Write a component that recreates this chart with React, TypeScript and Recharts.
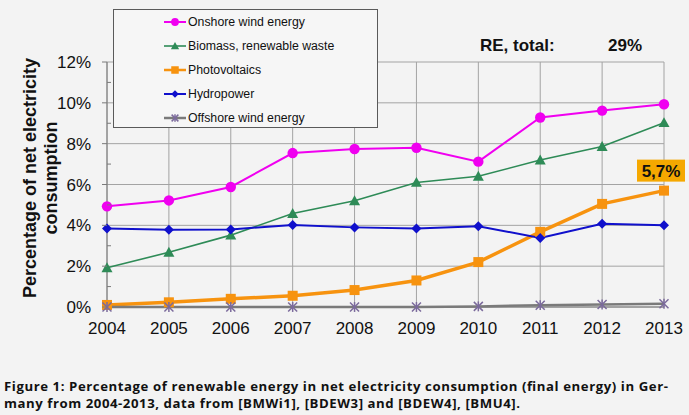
import React from 'react';
import { LineChart, Line, XAxis, YAxis, CartesianGrid, Legend, LabelList, Customized } from 'recharts';

const years = [2004, 2005, 2006, 2007, 2008, 2009, 2010, 2011, 2012, 2013];
const onshore = [4.93, 5.22, 5.88, 7.54, 7.74, 7.8, 7.12, 9.28, 9.62, 9.93];
const biomass = [1.92, 2.68, 3.52, 4.58, 5.2, 6.1, 6.4, 7.2, 7.86, 9.03];
const photovoltaics = [0.1, 0.23, 0.4, 0.55, 0.83, 1.3, 2.2, 3.68, 5.05, 5.7];
const hydropower = [3.84, 3.78, 3.8, 4.02, 3.9, 3.84, 3.96, 3.38, 4.08, 4.0];
const offshore = [0, 0, 0, 0, 0, 0, 0.03, 0.09, 0.12, 0.16];
const yTicks = [0, 1, 2, 3, 4, 5, 6, 7, 8, 9, 10, 11, 12];
const yGrid = [0, 2, 4, 6, 8, 10, 12];
const totalLabel = 'RE, total:';
const totalValue = '29%';
const pvCallout = '5,7%';
const captionLine1 = 'Figure 1: Percentage of renewable energy in net electricity consumption (final energy) in Ger-';
const captionLine2 = 'many from 2004-2013, data from [BMWi1], [BDEW3] and [BDEW4], [BMU4].';

const data = years.map((y, i) => ({
  year: y,
  onshore: onshore[i],
  biomass: biomass[i],
  pv: photovoltaics[i],
  hydro: hydropower[i],
  offshore: offshore[i],
}));

type Shape = 'circle' | 'triangle' | 'square' | 'diamond' | 'star';
const series: { key: string; name: string; color: string; width: number; shape: Shape; markerColor: string }[] = [
  { key: 'onshore', name: 'Onshore wind energy', color: '#f000f0', width: 2, shape: 'circle', markerColor: '#f000f0' },
  { key: 'biomass', name: 'Biomass, renewable waste', color: '#2e8b57', width: 1.6, shape: 'triangle', markerColor: '#2e8b57' },
  { key: 'pv', name: 'Photovoltaics', color: '#f7930f', width: 3.5, shape: 'square', markerColor: '#f7930f' },
  { key: 'hydro', name: 'Hydropower', color: '#1010cc', width: 2, shape: 'diamond', markerColor: '#1010cc' },
  { key: 'offshore', name: 'Offshore wind energy', color: '#7a7a7a', width: 2.5, shape: 'star', markerColor: '#7b6a9c' },
];

const FONT = 'Liberation Sans, Arial, sans-serif';
const BG = '#f3f3f3';

function Marker({ shape, cx, cy, color, s = 1 }: { shape: Shape; cx: number; cy: number; color: string; s?: number }) {
  if (cx == null || cy == null) return null;
  switch (shape) {
    case 'circle':
      return <circle cx={cx} cy={cy} r={5.2 * s} fill={color} />;
    case 'triangle': {
      const h = 5.5 * s;
      return <polygon points={`${cx},${cy - h} ${cx + h},${cy + h * 0.8} ${cx - h},${cy + h * 0.8}`} fill={color} />;
    }
    case 'square': {
      const h = 5 * s;
      return <rect x={cx - h} y={cy - h} width={2 * h} height={2 * h} fill={color} />;
    }
    case 'diamond': {
      const h = 5 * s;
      return <polygon points={`${cx},${cy - h} ${cx + h},${cy} ${cx},${cy + h} ${cx - h},${cy}`} fill={color} />;
    }
    case 'star': {
      const h = 4.5 * s;
      return (
        <g stroke={color} strokeWidth={1.5}>
          <line x1={cx - h} y1={cy - h} x2={cx + h} y2={cy + h} />
          <line x1={cx - h} y1={cy + h} x2={cx + h} y2={cy - h} />
          <line x1={cx} y1={cy - h * 1.1} x2={cx} y2={cy + h * 1.1} />
        </g>
      );
    }
  }
  return null;
}

const YTick = (props: any) => {
  const { x, y, payload } = props;
  const v = payload.value as number;
  const major = v % 2 === 0;
  return (
    <g>
      {major ? (
        <>
          <line x1={x - 5} x2={x} y1={y} y2={y} stroke="#7a7a7a" />
          <text x={x - 16} y={y} dy={6} textAnchor="end" fontFamily={FONT} fontSize={17} fill="#111">
            {v}%
          </text>
        </>
      ) : (
        <line x1={x} x2={x + 4} y1={y} y2={y} stroke="#7a7a7a" />
      )}
    </g>
  );
};

const XTick = (props: any) => {
  const { x, y, payload } = props;
  return (
    <text x={x} y={y} dy={27} textAnchor="middle" fontFamily={FONT} fontSize={17} fill="#111">
      {payload.value}
    </text>
  );
};

const YLabel = () => (
  <g fontFamily={FONT} fontWeight="bold" fontSize={18} fill="#111">
    <text x={36} y={178} textAnchor="middle" transform="rotate(-90 36 178)">
      Percentage of net electricity
    </text>
    <text x={57} y={178} textAnchor="middle" transform="rotate(-90 57 178)">
      consumption
    </text>
  </g>
);

const LegendBox = () => (
  <div
    style={{
      width: 265,
      height: 119,
      boxSizing: 'border-box',
      border: '1px solid #5a5a5a',
      background: '#f6f6f6',
      position: 'relative',
      fontFamily: FONT,
      fontSize: 12.3,
      color: '#111',
    }}
  >
    {series.map((s, i) => (
      <div key={s.key} style={{ position: 'absolute', left: 49, top: 4 + i * 24, height: 16, display: 'flex', alignItems: 'center' }}>
        <svg width={24} height={16} style={{ display: 'block' }}>
          <line x1={1} x2={23} y1={8} y2={8} stroke={s.color} strokeWidth={Math.min(s.width, 2.5)} />
          <Marker shape={s.shape} cx={12} cy={8} color={s.markerColor} s={0.75} />
        </svg>
        <span style={{ marginLeft: 1, whiteSpace: 'nowrap', lineHeight: '16px' }}>{s.name}</span>
      </div>
    ))}
  </div>
);

const Annotations = () => (
  <g fontFamily={FONT} fontWeight="bold" fontSize={17} fill="#111">
    <text x={480} y={51}>{totalLabel}</text>
    <text x={608} y={51}>{totalValue}</text>
  </g>
);

const PvCallout = (props: any) => {
  const { x, y, index } = props;
  if (index !== years.length - 1) return null;
  return (
    <g>
      <rect x={x - 27} y={y - 31} width={48} height={22} fill="#f5a800" />
      <text x={x - 3} y={y - 14} textAnchor="middle" fontFamily={FONT} fontWeight="bold" fontSize={17} fill="#111">
        {pvCallout}
      </text>
    </g>
  );
};

export default function App() {
  return (
    <div style={{ position: 'absolute', left: 0, top: 0, width: 689, height: 415, background: BG, overflow: 'hidden' }}>
      <LineChart width={689} height={345} data={data} margin={{ top: 62, right: 25, bottom: 0, left: 0 }}>
        <CartesianGrid
          stroke="#a3a3a3"
          strokeWidth={1}
          horizontalValues={yGrid}
          verticalValues={years}
        />
        <XAxis
          dataKey="year"
          type="number"
          domain={[2004, 2013]}
          ticks={years}
          tick={<XTick />}
          tickLine={false}
          tickSize={0}
          tickMargin={0}
          axisLine={{ stroke: '#7a7a7a' }}
          height={38}
        />
        <YAxis
          type="number"
          domain={[0, 12]}
          ticks={yTicks}
          interval={0}
          tick={<YTick />}
          tickLine={false}
          tickSize={0}
          tickMargin={0}
          axisLine={{ stroke: '#7a7a7a' }}
          width={107}
          label={<YLabel />}
        />
        {series.map((s) => (
          <Line
            key={s.key}
            dataKey={s.key}
            name={s.name}
            stroke={s.color}
            strokeWidth={s.width}
            isAnimationActive={false}
            dot={(p: any) => <Marker key={`${s.key}-${p.index}`} shape={s.shape} cx={p.cx} cy={p.cy} color={s.markerColor} />}
            activeDot={false}
          >
            {s.key === 'pv' ? <LabelList dataKey="pv" content={<PvCallout />} /> : null}
          </Line>
        ))}
        <Customized component={<Annotations />} />
        <Legend
          layout="vertical"
          align="center"
          verticalAlign="middle"
          content={() => <LegendBox />}
          wrapperStyle={{ position: 'absolute', left: 113, top: 9, width: 265, height: 119 }}
        />
      </LineChart>
      <svg width={689} height={70} style={{ position: 'absolute', left: 0, top: 345 }}>
        <g fontFamily="Open Sans, sans-serif" fontWeight="bold" fontSize={13.2} fill="#111">
          <text x={4} y={46} textLength={664} lengthAdjust="spacing">{captionLine1}</text>
          <text x={4} y={63} textLength={516} lengthAdjust="spacing">{captionLine2}</text>
        </g>
      </svg>
    </div>
  );
}
